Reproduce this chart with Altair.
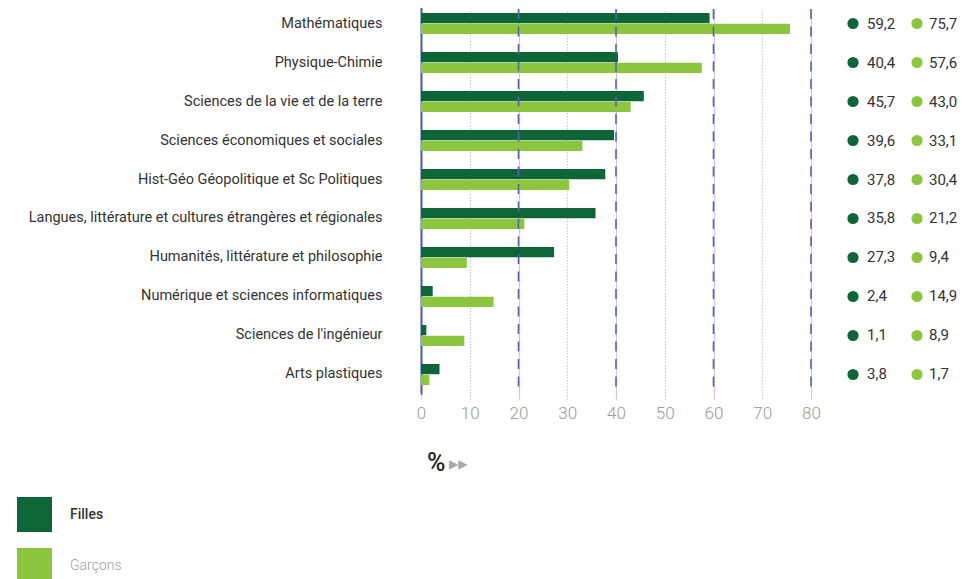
import altair as alt
import pandas as pd

categories = [
    "Mathématiques",
    "Physique-Chimie",
    "Sciences de la vie et de la terre",
    "Sciences économiques et sociales",
    "Hist-Géo Géopolitique et Sc Politiques",
    "Langues, littérature et cultures étrangères et régionales",
    "Humanités, littérature et philosophie",
    "Numérique et sciences informatiques",
    "Sciences de l'ingénieur",
    "Arts plastiques",
]
filles = [59.2, 40.4, 45.7, 39.6, 37.8, 35.8, 27.3, 2.4, 1.1, 3.8]
garcons = [75.7, 57.6, 43.0, 33.1, 30.4, 21.2, 9.4, 14.9, 8.9, 1.7]
series = ["Filles", "Garçons"]
colors = ["#0e6638", "#8cc63f"]
x_ticks = [0, 10, 20, 30, 40, 50, 60, 70, 80]
dashed_ticks = [20, 40, 60, 80]

rows = []
for c, f, g in zip(categories, filles, garcons):
    rows.append({"cat": c, "serie": "Filles", "val": f, "lab": f"{f:.1f}".replace(".", ",")})
    rows.append({"cat": c, "serie": "Garçons", "val": g, "lab": f"{g:.1f}".replace(".", ",")})
df = pd.DataFrame(rows)
df_f = df[df.serie == "Filles"]
df_g = df[df.serie == "Garçons"]

FONT = "Roboto"

yscale = alt.Scale(paddingInner=0.4615, paddingOuter=0.2308, range=[-5, 385])
yenc = alt.Y("cat:N", sort=categories, title=None, scale=yscale,
             axis=alt.Axis(labelFont=FONT, labelFontSize=14.5, labelColor="#333",
                           labelPadding=39, ticks=False, domain=True,
                           domainColor="#4a5aa8", domainWidth=2, grid=False,
                           labelLimit=500))
color_scale = alt.Scale(domain=series, range=colors)

bars = alt.Chart(df).mark_bar().encode(
    x=alt.X("val:Q", scale=alt.Scale(domain=[0, 80], nice=False), title=None,
            axis=alt.Axis(values=x_ticks, labelFont=FONT, labelFontSize=17,
                          labelFontWeight=300, labelColor="#9a9a9a", labelPadding=11,
                          labelFlush=False,
                          ticks=False, domain=False, grid=True,
                          gridColor={"condition": {"test": "datum.value % 20 === 0", "value": "#c5cbe8"}, "value": "#c8c8c8"},
                          gridDash={"condition": {"test": "datum.value % 20 === 0", "value": []}, "value": [1.5, 1.5]},
                          gridWidth=1.2)),
    y=yenc,
    yOffset=alt.YOffset("serie:N", sort=series, scale=alt.Scale(paddingInner=0.05)),
    color=alt.Color("serie:N", scale=color_scale, title=None,
                    legend=alt.Legend(orient="none", legendX=-404, legendY=488,
                                      symbolType="square", symbolSize=1225,
                                      symbolStrokeWidth=0, symbolOpacity=1,
                                      labelOffset=18, rowPadding=16,
                                      labelFont=FONT, labelFontSize=14,
                                      labelColor={"expr": "datum.label === 'Filles' ? '#333333' : '#a0a0a0'"},
                                      labelFontWeight={"expr": "datum.label === 'Filles' ? 500 : 300"})),
)

dash_df = pd.DataFrame({"v": dashed_ticks})
dash_rules = alt.Chart(dash_df).mark_rule(color="#5264b0", strokeWidth=1.6, strokeDash=[10, 7.5]).encode(
    x=alt.X("v:Q", scale=alt.Scale(domain=[0, 80], nice=False)),
)

dots_f = alt.Chart(df_f).mark_circle(size=125, opacity=1, color=colors[0]).encode(
    x=alt.value(432), y=alt.Y("cat:N", sort=categories))
text_f = alt.Chart(df_f).mark_text(align="left", baseline="middle", font=FONT, fontSize=15,
                                   color="#333").encode(
    x=alt.value(446), y=alt.Y("cat:N", sort=categories), text="lab:N")
dots_g = alt.Chart(df_g).mark_circle(size=125, opacity=1, color=colors[1]).encode(
    x=alt.value(496), y=alt.Y("cat:N", sort=categories))
text_g = alt.Chart(df_g).mark_text(align="left", baseline="middle", font=FONT, fontSize=15,
                                   color="#333").encode(
    x=alt.value(508), y=alt.Y("cat:N", sort=categories), text="lab:N")

pct = alt.Chart(pd.DataFrame({"t": ["%"]})).mark_text(
    align="left", baseline="middle", font=FONT, fontSize=25, fontWeight=500, color="#222"
).encode(x=alt.value(6), y=alt.value(454), text="t:N")
arrows = alt.Chart(pd.DataFrame({"t": ["▶▶"]})).mark_text(
    align="left", baseline="middle", font="DejaVu Sans", fontSize=12, color="#a8a8a8"
).encode(x=alt.value(28), y=alt.value(455), text="t:N")

chart = alt.layer(bars, dash_rules, dots_f, text_f, dots_g, text_g, pct, arrows).properties(
    width=390, height=385, padding={"left": 9, "top": 0, "right": 0, "bottom": 0}
).configure_view(stroke=None)

chart.save("out.html", embed_options={"renderer": "svg", "actions": False})
